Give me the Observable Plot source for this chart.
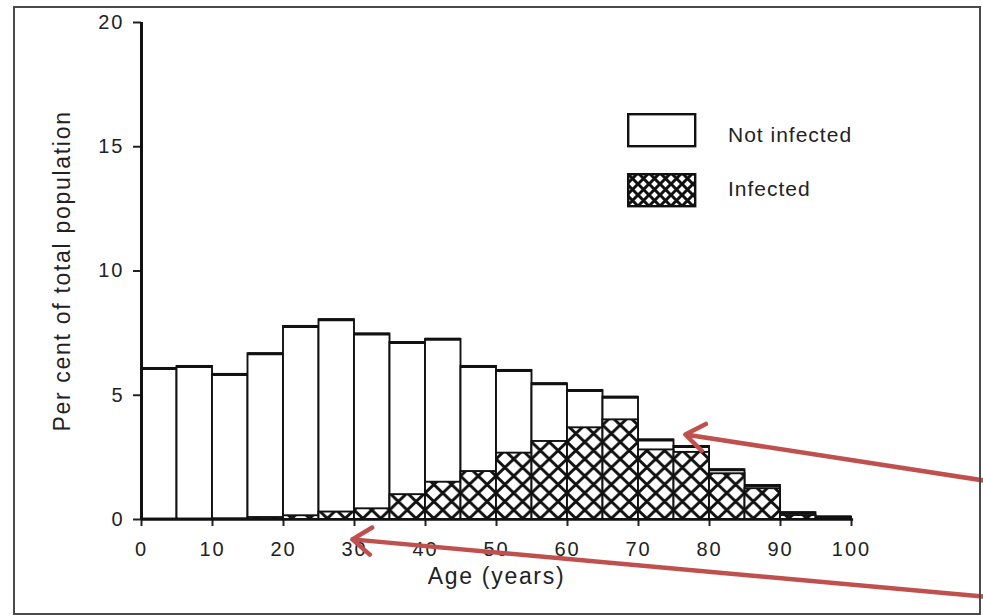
<!DOCTYPE html>
<html>
<head>
<meta charset="utf-8">
<script src="https://cdn.jsdelivr.net/npm/d3@7"></script>
<script src="https://cdn.jsdelivr.net/npm/@observablehq/plot@0.6"></script>
<style>
  html, body { margin: 0; padding: 0; background: #fff; }
  #wrap { position: relative; width: 983px; height: 615px; overflow: hidden; font-family: "Liberation Sans", Arial, sans-serif; }
  #frame { position: absolute; left: 13px; top: 6px; width: 968px; height: 609px; box-sizing: border-box; border: 2px solid #4a4a4a; pointer-events: none; }
  #legend { position: absolute; left: 627px; top: 113px; }
  .lg-row { position: absolute; left: 0; white-space: nowrap; }
  .lg-row svg { position: absolute; left: 0; top: 0; }
  .lg-row span { position: absolute; left: 101px; font-size: 21px; letter-spacing: 1px; color: #222; line-height: 1; }
</style>
</head>
<body>
<div id="wrap">
  <svg width="0" height="0" style="position:absolute">
    <defs>
      <pattern id="xhatch" patternUnits="userSpaceOnUse" x="141" y="0" width="17.75" height="17">
        <rect width="17.75" height="17" fill="#fff"></rect>
        <path d="M0,0L17.75,17M17.75,0L0,17" stroke="#111" stroke-width="3"></path>
      </pattern>
      <pattern id="xhatchLegend" patternUnits="userSpaceOnUse" x="0" y="0" width="11" height="11">
        <rect width="11" height="11" fill="#fff"></rect>
        <path d="M0,0L11,11M11,0L0,11" stroke="#111" stroke-width="3"></path>
      </pattern>
    </defs>
  </svg>
  <div id="chart"></div>
  <div id="legend"></div>
  <div id="frame"></div>
</div>
<script>
// ---- data ----
const ageStart = [0, 5, 10, 15, 20, 25, 30, 35, 40, 45, 50, 55, 60, 65, 70, 75, 80, 85, 90, 95];
const binWidth = 5;
const totalPct = [6.08, 6.16, 5.84, 6.67, 7.77, 8.04, 7.46, 7.12, 7.25, 6.16, 6.0, 5.46, 5.19, 4.92, 3.2, 2.94, 2.0, 1.37, 0.27, 0.1];
const infectedPct = [0.02, 0.02, 0.03, 0.08, 0.15, 0.3, 0.43, 1.0, 1.5, 1.93, 2.67, 3.14, 3.69, 4.01, 2.8, 2.7, 1.84, 1.24, 0.16, 0.06];
const xTicks = [0, 10, 20, 30, 40, 50, 60, 70, 80, 90, 100];
const yTicks = [0, 5, 10, 15, 20];
const seriesLabels = ["Not infected", "Infected"];
const xTitle = "Age (years)";
const yTitle = "Per cent of total population";
// annotation arrows (data units: age, percent)
const arrowFromX = [118.6, 118.6];
const arrowFromY = [1.57, -3.1];
const arrowToX = [76.6, 29.7];
const arrowToY = [3.42, -0.8];

const bins = ageStart.map((a, i) => ({a0: a, a1: a + binWidth, total: totalPct[i], inf: infectedPct[i]}));
const arrows = arrowFromX.map((x, i) => ({x1: x, y1: arrowFromY[i], x2: arrowToX[i], y2: arrowToY[i]}));

const chart = Plot.plot({
  width: 983,
  height: 615,
  marginLeft: 141,
  marginRight: 132,
  marginTop: 22,
  marginBottom: 96,
  style: {background: "transparent", fontFamily: "Liberation Sans, Arial, sans-serif", color: "#222"},
  x: {domain: [0, 100]},
  y: {domain: [0, 20]},
  marks: [
    Plot.rect(bins, {x1: "a0", x2: "a1", y1: 0, y2: "total", fill: "#fff", stroke: "#111", strokeWidth: 1.9}),
    Plot.ruleY(bins, {x1: "a0", x2: "a1", y: "total", stroke: "#111", strokeWidth: 3}),
    Plot.rect(bins, {x1: "a0", x2: "a1", y1: 0, y2: "inf", fill: "url(#xhatch)", stroke: "#111", strokeWidth: 1.9}),
    Plot.axisX({ticks: xTicks, tickSize: 7, tickPadding: 15, fontSize: 20, tickFormat: d => String(d), label: null, strokeWidth: 2}),
    Plot.axisY({ticks: yTicks, tickSize: 8, tickPadding: 9, fontSize: 20, tickFormat: d => String(d), label: null, strokeWidth: 2}),
    Plot.ruleY([0], {x1: 0, x2: 100.3, stroke: "#111", strokeWidth: 2.5}),
    Plot.ruleX([0], {y1: 0, y2: 20, stroke: "#111", strokeWidth: 3}),
    Plot.text([xTitle], {frameAnchor: "bottom", dy: 64, fontSize: 23, fill: "#222"}),
    Plot.text([yTitle], {frameAnchor: "left", textAnchor: "middle", dx: -79, rotate: -90, fontSize: 23, fill: "#222"}),
    Plot.arrow(arrows, {x1: "x1", y1: "y1", x2: "x2", y2: "y2", stroke: "#c0504d", strokeWidth: 4.5, headLength: 7.7, headAngle: 72})
  ]
});
document.getElementById("chart").appendChild(chart);
// slightly wider letter spacing, as in the scanned figure
d3.select(chart).selectAll("g[aria-label='x-axis tick label'] text, g[aria-label='y-axis tick label'] text").style("letter-spacing", "2px");
d3.select(chart).selectAll("g[aria-label='text'] text").style("letter-spacing", "1.7px");

// legend
const legend = document.getElementById("legend");
const fills = ["#fff", "url(#xhatchLegend)"];
const tops = [0, 60];
const textTops = [11, 5];
seriesLabels.forEach((lab, i) => {
  const row = document.createElement("div");
  row.className = "lg-row";
  row.style.top = tops[i] + "px";
  row.innerHTML = `<svg width="70" height="35"><rect x="1.2" y="1.2" width="67" height="32" fill="${fills[i]}" stroke="#111" stroke-width="2.4"></rect></svg><span style="top:${textTops[i]}px">${lab}</span>`;
  legend.appendChild(row);
});
</script>
</body>
</html>
